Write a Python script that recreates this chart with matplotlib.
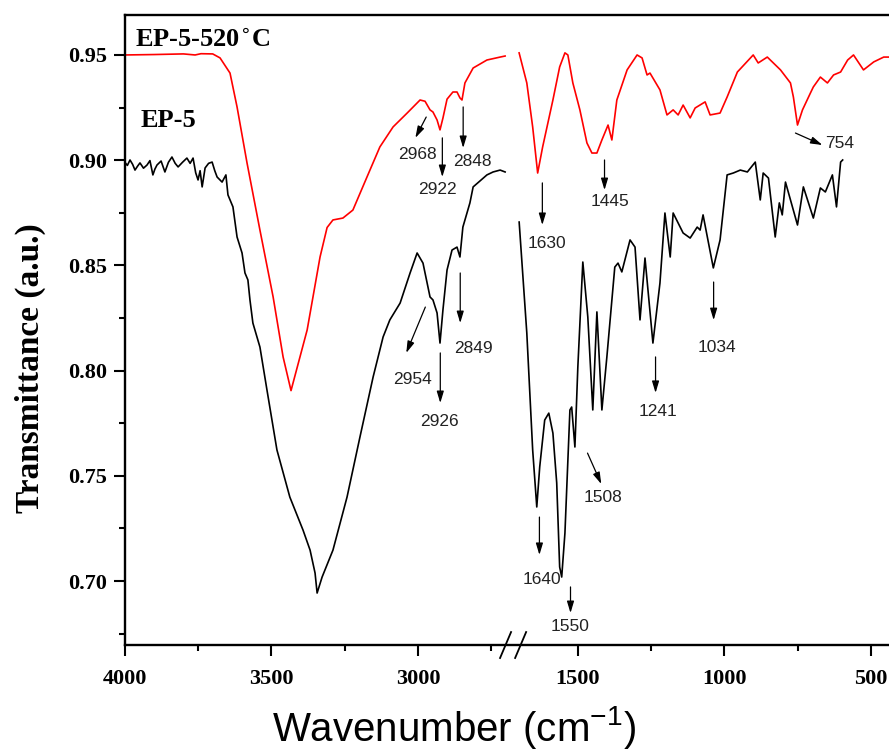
import numpy as np
import matplotlib.pyplot as plt

# EP-5-520°C, high wavenumber part (cm-1, transmittance)
red_hi_wn = [4000, 3900, 3800, 3760, 3740, 3700, 3675, 3641, 3617, 3583, 3539, 3494,
             3460, 3433, 3378, 3334, 3310, 3290, 3256, 3222, 3174, 3130, 3085, 3037,
             2993, 2976, 2959, 2949, 2935, 2925, 2915, 2901, 2881, 2867, 2857, 2850,
             2840, 2812, 2765, 2720, 2703]
red_hi_t = [0.950, 0.9502, 0.9505, 0.9500, 0.9506, 0.9505, 0.9486, 0.9414, 0.9253, 0.8987,
            0.8668, 0.8350, 0.8065, 0.7905, 0.8193, 0.8540, 0.8680, 0.8716, 0.8725, 0.8763,
            0.8920, 0.9063, 0.9158, 0.9224, 0.9286, 0.9280, 0.9239, 0.9229, 0.9191, 0.9144,
            0.9200, 0.9290, 0.9324, 0.9324, 0.9296, 0.9286, 0.9367, 0.9438, 0.9476, 0.9490,
            0.9495]

# EP-5-520°C, fingerprint part
red_lo_wn = [1705, 1674, 1654, 1637, 1620, 1585, 1562, 1544, 1534, 1517, 1493, 1469, 1452,
             1435, 1418, 1397, 1384, 1367, 1332, 1298, 1281, 1264, 1254, 1220, 1196, 1175,
             1158, 1141, 1117, 1100, 1066, 1049, 1015, 991, 956, 902, 885, 854, 809, 775,
             765, 751, 734, 707, 697, 673, 649, 628, 604, 580, 560, 526, 491, 457, 437]
red_lo_t = [0.951, 0.9367, 0.9158, 0.8939, 0.9063, 0.9286, 0.9443, 0.951, 0.950, 0.9367,
            0.9239, 0.9082, 0.9034, 0.9034, 0.9096, 0.9167, 0.9096, 0.9286, 0.9429, 0.950,
            0.9486, 0.9405, 0.9414, 0.9334, 0.9215, 0.9239, 0.9215, 0.9262, 0.9201, 0.9248,
            0.9277, 0.9215, 0.9224, 0.9300, 0.9419, 0.950, 0.9462, 0.9490, 0.9429, 0.9367,
            0.9300, 0.9167, 0.9239, 0.9319, 0.9348, 0.9395, 0.9367, 0.9405, 0.9419, 0.9476,
            0.950, 0.9429, 0.9467, 0.9490, 0.9490]

# EP-5, high wavenumber part
blk_hi_wn = [4000, 3991, 3982, 3973, 3965, 3956, 3948, 3936, 3924, 3914, 3904, 3897, 3890,
             3876, 3863, 3851, 3839, 3828, 3818, 3803, 3788, 3777, 3767, 3758, 3750, 3743,
             3736, 3726, 3714, 3702, 3693, 3685, 3668, 3655, 3648, 3631, 3617, 3600, 3590,
             3580, 3573, 3563, 3539, 3515, 3481, 3437, 3392, 3368, 3351, 3344, 3327, 3290,
             3242, 3198, 3153, 3119, 3096, 3061, 3027, 3003, 2983, 2959, 2949, 2935, 2925,
             2915, 2901, 2884, 2867, 2857, 2847, 2823, 2812, 2765, 2744, 2720, 2703]
blk_hi_t = [0.8991, 0.8975, 0.9001, 0.8980, 0.8953, 0.8972, 0.8987, 0.8962, 0.8977, 0.8998,
            0.8930, 0.8958, 0.8977, 0.8996, 0.8944, 0.8990, 0.9015, 0.8985, 0.8968, 0.8990,
            0.9010, 0.8985, 0.9010, 0.8940, 0.8906, 0.8950, 0.8873, 0.8963, 0.8985, 0.8991,
            0.8950, 0.8920, 0.8896, 0.8930, 0.8835, 0.8778, 0.8635, 0.8559, 0.8464, 0.8431,
            0.8336, 0.8226, 0.8112, 0.7908, 0.7623, 0.7399, 0.7242, 0.7147, 0.7038, 0.6943,
            0.7019, 0.7147, 0.7399, 0.7684, 0.7970, 0.8160, 0.8241, 0.8321, 0.8464, 0.8559,
            0.8511, 0.8350, 0.8336, 0.8274, 0.8131, 0.8288, 0.8478, 0.8573, 0.8587, 0.8540,
            0.8682, 0.8797, 0.8873, 0.8930, 0.8944, 0.8953, 0.8944]

# EP-5, fingerprint part
blk_lo_wn = [1702, 1674, 1654, 1640, 1630, 1613, 1599, 1585, 1572, 1562, 1555, 1544, 1527,
             1521, 1510, 1500, 1483, 1466, 1449, 1435, 1418, 1401, 1374, 1363, 1350, 1322,
             1305, 1288, 1271, 1244, 1220, 1203, 1185, 1175, 1141, 1117, 1093, 1083, 1073,
             1038, 1015, 991, 970, 946, 922, 895, 878, 868, 850, 827, 813, 803, 792, 751,
             731, 697, 673, 656, 632, 618, 604, 597]
blk_lo_t = [0.8706, 0.8179, 0.7623, 0.7352, 0.7542, 0.7765, 0.7798, 0.7703, 0.7466, 0.7067,
            0.7019, 0.7228, 0.7813, 0.7827, 0.7637, 0.8017, 0.8516, 0.8255, 0.7813, 0.8279,
            0.7813, 0.8065, 0.8492, 0.8511, 0.8469, 0.8621, 0.8587, 0.8241, 0.8535, 0.8131,
            0.8416, 0.8749, 0.8540, 0.8749, 0.8654, 0.8630, 0.8682, 0.8668, 0.8740, 0.8488,
            0.8621, 0.8930, 0.8939, 0.8953, 0.8944, 0.8991, 0.8811, 0.8939, 0.8915, 0.8635,
            0.8797, 0.8740, 0.8896, 0.8692, 0.8873, 0.8725, 0.8868, 0.8849, 0.8930, 0.8778,
            0.8991, 0.9001]

# peak labels: text, arrow tail / head (wn, T), label centre (wn, T)
peak_text = ['2968', '2922', '2848', '1630', '1445', '754',
             '2954', '2926', '2849', '1640', '1550', '1508', '1241', '1034']
arrow_tail = [(2972, 0.9205), (2917, 0.9106), (2846, 0.9253), (1621, 0.8892), (1409, 0.9001), (758, 0.9129),
              (2975, 0.8302), (2924, 0.8084), (2856, 0.8464), (1631, 0.7304), (1525, 0.6972), (1467, 0.7608),
              (1235, 0.8065), (1037, 0.8421)]
arrow_head = [(3009, 0.9106), (2917, 0.8920), (2846, 0.9058), (1621, 0.8692), (1409, 0.8858), (666, 0.9072),
              (3040, 0.8084), (2924, 0.7846), (2856, 0.8226), (1631, 0.7124), (1525, 0.6848), (1420, 0.7461),
              (1235, 0.7894), (1037, 0.8240)]
label_pos = [(3001, 0.9025), (2934, 0.8863), (2815, 0.8996), (1604, 0.8606), (1389, 0.8806), (608, 0.9077),
             (3020, 0.7960), (2927, 0.7756), (2811, 0.8103), (1621, 0.7005), (1525, 0.6786), (1413, 0.7399),
             (1228, 0.7808), (1024, 0.8112)]


# broken wavenumber axis: 4000-2700 and 1700-... share one axis, the gap is squeezed
def _squeeze(w):
    return np.where(w >= 2700, 4000 - w,
                    np.where(w >= 1700, 1300 + (2700 - w) * 0.045, 1345 + (1700 - w)))


def _unsqueeze(u):
    return np.where(u <= 1300, 4000 - u,
                    np.where(u <= 1345, 2700 - (u - 1300) / 0.045, 1700 - (u - 1345)))


def fwd(w):
    return -_squeeze(np.asarray(w, dtype=float))


def inv(u):
    return _unsqueeze(-np.asarray(u, dtype=float))


fig = plt.figure(figsize=(8.89, 7.53), dpi=100)
ax = fig.add_axes([0.1403, 0.1434, 0.8597, 0.8367])
ax.set_xscale('function', functions=(fwd, inv))

ax.plot(red_hi_wn, red_hi_t, color='#ff0000', lw=1.2)
ax.plot(red_lo_wn, red_lo_t, color='#ff0000', lw=1.2)
ax.plot(blk_hi_wn, blk_hi_t, color='black', lw=1.2)
ax.plot(blk_lo_wn, blk_lo_t, color='black', lw=1.2)

for txt, tail, head, pos in zip(peak_text, arrow_tail, arrow_head, label_pos):
    ax.annotate('', xy=head, xytext=tail,
                arrowprops=dict(arrowstyle='-|>,head_length=0.5,head_width=0.15',
                                color='black', lw=0.9, mutation_scale=14, shrinkA=0, shrinkB=0))
    ax.text(pos[0], pos[1], txt, ha='center', va='center', fontsize=12.5,
            family='Liberation Sans', color='#222222')

ax.text(3965, 0.9538, 'EP-5-520$^{\\circ}$C', fontsize=19, fontweight='bold',
        family='Liberation Serif', va='baseline')
ax.text(3947, 0.9158, 'EP-5', fontsize=19, fontweight='bold',
        family='Liberation Serif', va='baseline')

ax.set_xlim(4000, 439)
ax.set_ylim(0.6696, 0.969)
ax.set_xticks([4000, 3500, 3000, 1500, 1000, 500])
ax.set_xticks([3750, 3250, 2750, 1250, 750], minor=True)
ax.set_yticks([0.70, 0.75, 0.80, 0.85, 0.90, 0.95])
ax.set_yticks([0.675, 0.725, 0.775, 0.825, 0.875, 0.925], minor=True)
ax.set_yticklabels(['0.70', '0.75', '0.80', '0.85', '0.90', '0.95'])
ax.set_xticklabels(['4000', '3500', '3000', '1500', '1000', '500'])

for lab in ax.get_xticklabels() + ax.get_yticklabels():
    lab.set_family('Liberation Serif')
    lab.set_fontweight('bold')
    lab.set_fontsize(16)
ax.tick_params(which='major', direction='out', length=8, width=1.5, pad=5)
ax.tick_params(which='minor', direction='out', length=4.5, width=1.5)
ax.tick_params(axis='x', pad=9)

ax.spines['right'].set_visible(False)
for s in ['left', 'bottom', 'top']:
    ax.spines[s].set_linewidth(1.7)

# break marks on the bottom axis
for x0 in [0.5055, 0.5252]:
    ax.plot([x0, x0 - 0.0144], [0.0206, -0.0206], transform=ax.transAxes,
            color='black', lw=1.3, clip_on=False)

ax.set_ylabel('Transmittance (a.u.)', fontsize=24, fontweight='bold',
              family='Liberation Serif', va='center')
ax.yaxis.set_label_coords(-0.1239, 0.4397)
ax.set_xlabel('Wavenumber (cm$^{\\mathregular{-1}}$)', fontsize=29,
              family='Liberation Sans', va='baseline')
ax.xaxis.set_label_coords(0.431, -0.152)

fig.savefig('out.png', dpi=100)
